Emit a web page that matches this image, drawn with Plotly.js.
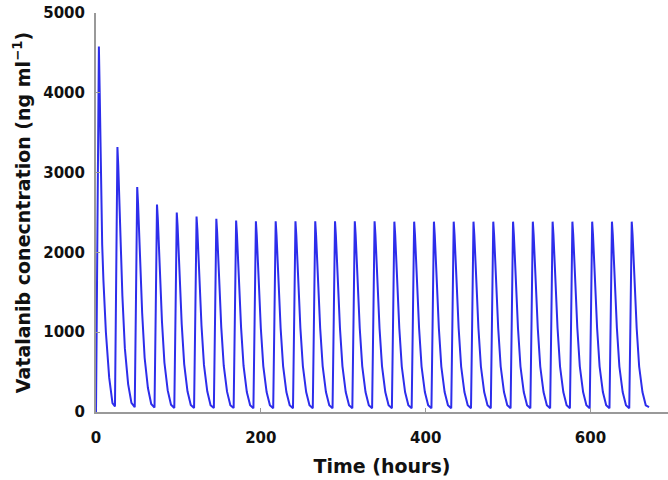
<!DOCTYPE html>
<html>
<head>
<meta charset="utf-8">
<script src="https://cdn.plot.ly/plotly-3.0.1.min.js"></script>
<style>
  html, body { margin: 0; padding: 0; background: #fff; }
  #chart { width: 668px; height: 480px; }
</style>
</head>
<body>
<div id="chart"></div>
<script>
// time points (hours), one line per daily dose
let hours = [
  0, 2, 3.5, 4.5, 6, 7.5, 9, 12, 16, 20,
  23, 24.5, 26, 27, 28.5, 30, 32, 35, 39, 43,
  47, 48.5, 50, 51, 52.5, 54, 56, 59, 63, 67,
  71, 72.5, 74, 75, 76.5, 78, 80, 83, 87, 91,
  95, 96.5, 98, 99, 100.5, 102, 104, 107, 111, 115,
  119, 120.5, 122, 123, 124.5, 126, 128, 131, 135, 139,
  143, 144.5, 146, 147, 148.5, 150, 152, 155, 159, 163,
  167, 168.5, 170, 171, 172.5, 174, 176, 179, 183, 187,
  191, 192.5, 194, 195, 196.5, 198, 200, 203, 207, 211,
  215, 216.5, 218, 219, 220.5, 222, 224, 227, 231, 235,
  239, 240.5, 242, 243, 244.5, 246, 248, 251, 255, 259,
  263, 264.5, 266, 267, 268.5, 270, 272, 275, 279, 283,
  287, 288.5, 290, 291, 292.5, 294, 296, 299, 303, 307,
  311, 312.5, 314, 315, 316.5, 318, 320, 323, 327, 331,
  335, 336.5, 338, 339, 340.5, 342, 344, 347, 351, 355,
  359, 360.5, 362, 363, 364.5, 366, 368, 371, 375, 379,
  383, 384.5, 386, 387, 388.5, 390, 392, 395, 399, 403,
  407, 408.5, 410, 411, 412.5, 414, 416, 419, 423, 427,
  431, 432.5, 434, 435, 436.5, 438, 440, 443, 447, 451,
  455, 456.5, 458, 459, 460.5, 462, 464, 467, 471, 475,
  479, 480.5, 482, 483, 484.5, 486, 488, 491, 495, 499,
  503, 504.5, 506, 507, 508.5, 510, 512, 515, 519, 523,
  527, 528.5, 530, 531, 532.5, 534, 536, 539, 543, 547,
  551, 552.5, 554, 555, 556.5, 558, 560, 563, 567, 571,
  575, 576.5, 578, 579, 580.5, 582, 584, 587, 591, 595,
  599, 600.5, 602, 603, 604.5, 606, 608, 611, 615, 619,
  623, 624.5, 626, 627, 628.5, 630, 632, 635, 639, 643,
  647, 648.5, 650, 651, 652.5, 654, 656, 659, 663, 667, 671
];

// vatalanib concentration (ng/ml)
let conc = [
  0, 2600, 4580, 4000, 2900, 2100, 1650, 1000, 430, 110,
  70, 1660, 3320, 3090, 2590, 2060, 1460, 800, 350, 115,
  60, 1410, 2820, 2620, 2200, 1750, 1240, 680, 300, 100,
  55, 1300, 2600, 2420, 2030, 1610, 1140, 620, 270, 90,
  50, 1250, 2500, 2330, 1950, 1550, 1100, 600, 260, 88,
  50, 1230, 2450, 2280, 1910, 1520, 1080, 590, 260, 86,
  50, 1210, 2420, 2250, 1890, 1500, 1060, 580, 255, 85,
  50, 1200, 2400, 2230, 1870, 1490, 1060, 580, 250, 84,
  48, 1195, 2390, 2220, 1860, 1480, 1050, 575, 250, 84,
  48, 1195, 2390, 2220, 1860, 1480, 1050, 575, 250, 84,
  48, 1195, 2390, 2220, 1860, 1480, 1050, 575, 250, 84,
  48, 1195, 2390, 2220, 1860, 1480, 1050, 575, 250, 84,
  48, 1195, 2390, 2220, 1860, 1480, 1050, 575, 250, 84,
  48, 1195, 2390, 2220, 1860, 1480, 1050, 575, 250, 84,
  48, 1195, 2390, 2220, 1860, 1480, 1050, 575, 250, 84,
  48, 1190, 2385, 2220, 1860, 1480, 1050, 570, 250, 84,
  48, 1190, 2385, 2220, 1860, 1480, 1050, 570, 250, 84,
  48, 1190, 2385, 2220, 1860, 1480, 1050, 570, 250, 84,
  48, 1190, 2385, 2220, 1860, 1480, 1050, 570, 250, 84,
  48, 1190, 2385, 2220, 1860, 1480, 1050, 570, 250, 84,
  48, 1190, 2385, 2220, 1860, 1480, 1050, 570, 250, 84,
  48, 1190, 2385, 2220, 1860, 1480, 1050, 570, 250, 84,
  48, 1190, 2385, 2220, 1860, 1480, 1050, 570, 250, 84,
  48, 1190, 2385, 2220, 1860, 1480, 1050, 570, 250, 84,
  48, 1190, 2385, 2220, 1860, 1480, 1050, 570, 250, 84,
  48, 1190, 2385, 2220, 1860, 1480, 1050, 570, 250, 84,
  48, 1190, 2385, 2220, 1860, 1480, 1050, 570, 250, 84,
  48, 1190, 2385, 2220, 1860, 1480, 1050, 570, 250, 84, 62
];

let xTicks = [0, 200, 400, 600];
let yTicks = [0, 1000, 2000, 3000, 4000, 5000];

let trace = {
    x: hours,
    y: conc,
    mode: 'lines',
    line: {color: 'rgb(45,45,235)', width: 2},
    hoverinfo: 'none'
};

let tickFont = {family: 'DejaVu Sans', size: 15, color: '#111', weight: 'bold'};
let titleFont = {family: 'DejaVu Sans', size: 19, color: '#111', weight: 'bold'};

let layout = {
    width: 668,
    height: 480,
    showlegend: false,
    paper_bgcolor: '#fff',
    plot_bgcolor: '#fff',
    margin: {l: 96, r: 0, t: 13, b: 68, pad: 0},
    xaxis: {
        range: [0, 694],
        tickvals: xTicks,
        ticktext: xTicks.map(String),
        ticks: 'inside',
        ticklen: 4,
        tickcolor: '#999',
        tickwidth: 1,
        showgrid: false,
        zeroline: false,
        showline: true,
        linecolor: '#999',
        linewidth: 2,
        tickfont: tickFont,
        ticklabelstandoff: 11,
        title: {text: 'Time (hours)', font: titleFont, standoff: 14},
        automargin: false
    },
    yaxis: {
        range: [0, 5000],
        tickvals: yTicks,
        ticktext: yTicks.map(String),
        ticks: 'inside',
        ticklen: 4,
        tickcolor: '#999',
        tickwidth: 1,
        showgrid: false,
        zeroline: false,
        showline: true,
        linecolor: '#999',
        linewidth: 2,
        tickfont: tickFont,
        ticklabelstandoff: 6,
        title: {text: 'Vatalanib conecntration (ng ml<sup>\u22121</sup>)', font: titleFont, standoff: 8},
        automargin: false
    }
};

Plotly.newPlot('chart', [trace], layout, {staticPlot: true, displayModeBar: false});
</script>
</body>
</html>
